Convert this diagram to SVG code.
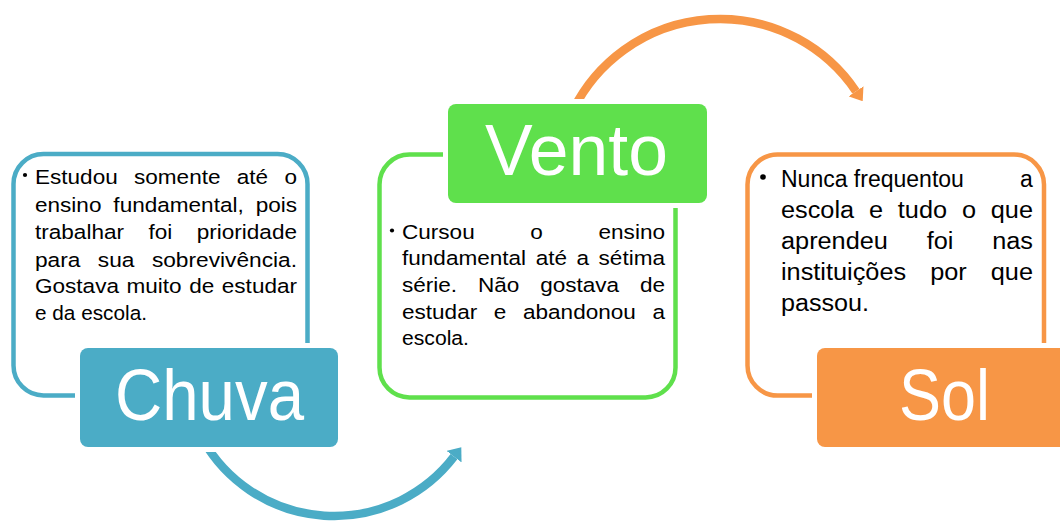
<svg xmlns="http://www.w3.org/2000/svg" width="1060" height="522" viewBox="0 0 1060 522">
<defs>
<style>
.body{font-family:"Liberation Sans",Arial,sans-serif;fill:#000;}
.b1{font-size:20.5px;}
.b2{font-size:23px;}
.head{font-family:"Liberation Sans Narrow","Liberation Sans",Arial,sans-serif;fill:#fff;font-size:73px;}
.pad{fill:#fff;}
.arc{fill:none;stroke-width:8.5;}
</style>
<marker id="ahBlue" markerUnits="userSpaceOnUse" viewBox="0 0 12 19" markerWidth="12" markerHeight="19" refX="0" refY="9.5" orient="auto"><path d="M0,0 L12,9.5 L0,19 Z" fill="#4BACC6"/></marker>
<marker id="ahOrange" markerUnits="userSpaceOnUse" viewBox="0 0 12 18" markerWidth="12" markerHeight="18" refX="0" refY="9" orient="auto"><path d="M0,0 L12,9 L0,18 Z" fill="#F79646"/></marker>
</defs>
<rect width="1060" height="522" fill="#fff"/>
<g id="connectors">
<path class="arc" stroke="#4BACC6" d="M203,440 A151,151 0 0 0 454,456.7" marker-end="url(#ahBlue)"/>
<path class="arc" stroke="#F79646" d="M573.1,110 A164,164 0 0 1 856,91.3" marker-end="url(#ahOrange)"/>
</g>
<g id="chuva">
<rect x="13.5" y="154" width="294" height="241.5" rx="30" fill="#fff" stroke="#4BACC6" stroke-width="4.5"/>
<circle cx="25" cy="175" r="2.1" fill="#000"/>
<text class="body b1" lengthAdjust="spacingAndGlyphs" x="35" y="184" textLength="262" word-spacing="9.13">Estudou somente até o</text>
<text class="body b1" lengthAdjust="spacingAndGlyphs" x="35" y="211.5" textLength="262" word-spacing="5.15">ensino fundamental, pois</text>
<text class="body b1" lengthAdjust="spacingAndGlyphs" x="35" y="239" textLength="262" word-spacing="16.55">trabalhar foi prioridade</text>
<text class="body b1" lengthAdjust="spacingAndGlyphs" x="35" y="266.5" textLength="262" word-spacing="10.05">para sua sobrevivência.</text>
<text class="body b1" lengthAdjust="spacingAndGlyphs" x="35" y="293" textLength="262" word-spacing="1.17">Gostava muito de estudar</text>
<text class="body b1" lengthAdjust="spacingAndGlyphs" x="35" y="319.5" textLength="112">e da escola.</text>
<rect class="pad" x="75" y="343" width="268" height="109" rx="12"/>
<rect x="80" y="348" width="258" height="99" rx="8" fill="#4BACC6"/>
<text class="head" x="115" y="420" textLength="189" lengthAdjust="spacingAndGlyphs">Chuva</text>
</g>
<g id="vento">
<rect x="379.5" y="154.5" width="296" height="243" rx="30" fill="#fff" stroke="#5FE04C" stroke-width="4.5"/>
<circle cx="392" cy="230.5" r="2.1" fill="#000"/>
<text class="body b1" lengthAdjust="spacingAndGlyphs" x="402" y="238.5" textLength="263" word-spacing="44.9">Cursou o ensino</text>
<text class="body b1" lengthAdjust="spacingAndGlyphs" x="402" y="265" textLength="263" word-spacing="2.97">fundamental até a sétima</text>
<text class="body b1" lengthAdjust="spacingAndGlyphs" x="402" y="292" textLength="263" word-spacing="13.23">série. Não gostava de</text>
<text class="body b1" lengthAdjust="spacingAndGlyphs" x="402" y="318.5" textLength="263" word-spacing="9.43">estudar e abandonou a</text>
<text class="body b1" lengthAdjust="spacingAndGlyphs" x="402" y="345" textLength="67">escola.</text>
<rect class="pad" x="443" y="99" width="269" height="109" rx="12"/>
<rect x="448" y="104" width="259" height="99" rx="8" fill="#5FE04C"/>
<text class="head" x="485" y="175" textLength="183" lengthAdjust="spacingAndGlyphs">Vento</text>
</g>
<g id="sol">
<rect x="747.5" y="154.5" width="296.5" height="241" rx="30" fill="#fff" stroke="#F79646" stroke-width="4.5"/>
<circle cx="763" cy="177" r="2.8" fill="#000"/>
<text class="body b2" x="781" y="186.5">Nunca frequentou <tspan x="1020">a</tspan></text>
<text class="body b2" lengthAdjust="spacingAndGlyphs" x="781" y="217.7" textLength="252" word-spacing="7.09">escola e tudo o que</text>
<text class="body b2" lengthAdjust="spacingAndGlyphs" x="781" y="248.9" textLength="252" word-spacing="28.9">aprendeu foi nas</text>
<text class="body b2" lengthAdjust="spacingAndGlyphs" x="781" y="280.1" textLength="252" word-spacing="15.46">instituições por que</text>
<text class="body b2" lengthAdjust="spacingAndGlyphs" x="781" y="311.3" textLength="88">passou.</text>
<rect class="pad" x="812" y="343" width="268" height="109" rx="12"/>
<rect x="817" y="348" width="258" height="99" rx="8" fill="#F79646"/>
<text class="head" x="899" y="420" textLength="91" lengthAdjust="spacingAndGlyphs">Sol</text>
</g>
</svg>
